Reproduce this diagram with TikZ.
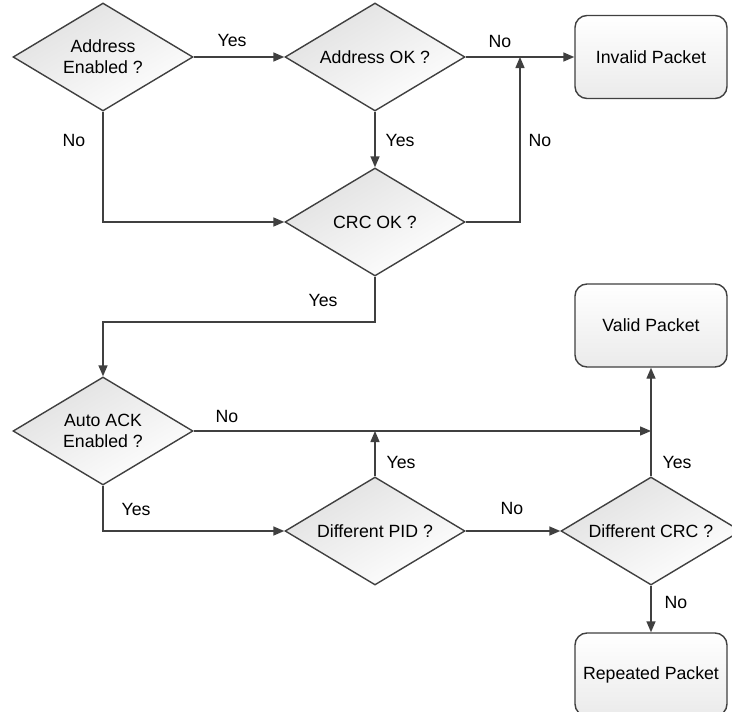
\documentclass[tikz,border=0pt]{standalone}
\usepackage{fontspec}
\setmainfont{Liberation Sans}
\usetikzlibrary{shapes.geometric,arrows.meta}
\definecolor{ln}{HTML}{404040}
\tikzset{
  x=1pt, y=-1pt,
  dec/.style={diamond, draw=ln, line width=1.4pt, minimum width=180pt, minimum height=108pt,
    shape aspect=1.667, inner sep=0pt, align=center, top color=black!12, bottom color=white, shading angle=30,
    font=\fontsize{17.7}{21}\selectfont},
  endbox/.style={rectangle, rounded corners=12pt, draw=ln, line width=1.4pt, minimum width=152pt,
    minimum height=83pt, align=center, top color=white, bottom color=black!8,
    font=\fontsize{17.7}{21}\selectfont},
  conn/.style={draw=ln, line width=1.4pt},
  arr/.style={conn, -{Triangle[length=11pt,width=9pt]}},
  lbl/.style={font=\fontsize{17.7}{21}\selectfont, inner sep=0pt}
}
\begin{document}
\begin{tikzpicture}
\useasboundingbox (0,0) rectangle (732,712);
\clip (0,0) rectangle (732,712);
\fill[white] (0,0) rectangle (732,712);
% nodes
\node[dec] (d1) at (103,57) {Address\\Enabled ?};
\node[dec] (d2) at (375,57) {Address OK ?};
\node[endbox] (inv) at (651,57) {Invalid Packet};
\node[dec] (crc) at (375,222) {CRC OK ?};
\node[dec] (ack) at (103,431) {Auto ACK\\Enabled ?};
\node[dec] (pid) at (375,531) {Different PID ?};
\node[dec] (dcrc) at (651,531) {Different CRC ?};
\node[endbox] (val) at (651,325.5) {Valid Packet};
\node[endbox] (rep) at (651,674.5) {Repeated Packet};
% junctions
\coordinate (j1) at (520,57);
\coordinate (k1) at (375,322);
\coordinate (j2) at (651,431);
\coordinate (j3) at (375,431);
% connectors
\draw[arr] (d1.east) -- (d2.west);
\draw[arr] (d2.east) -- (inv.west);
\draw[arr] (d2.south) -- (crc.north);
\draw[arr] (d1.south) |- (crc.west);
\draw[arr] (crc.east) -| (j1);
\draw[arr] (crc.south) -- (k1) -| (ack.north);
\draw[arr] (ack.east) -- (j2);
\draw[arr] (pid.north) -- (j3);
\draw[arr] (ack.south) |- (pid.west);
\draw[arr] (pid.east) -- (dcrc.west);
\draw[arr] (dcrc.north) -- (val.south);
\draw[arr] (dcrc.south) -- (rep.north);
% labels
\node[lbl] at (232,40) {Yes};
\node[lbl] at (74,140) {No};
\node[lbl] at (500,41) {No};
\node[lbl] at (400,140) {Yes};
\node[lbl] at (540,140) {No};
\node[lbl] at (323,300) {Yes};
\node[lbl] at (227,416) {No};
\node[lbl] at (401,462) {Yes};
\node[lbl] at (136,509) {Yes};
\node[lbl] at (512,508) {No};
\node[lbl] at (677,462) {Yes};
\node[lbl] at (676,602) {No};
\end{tikzpicture}
\end{document}
